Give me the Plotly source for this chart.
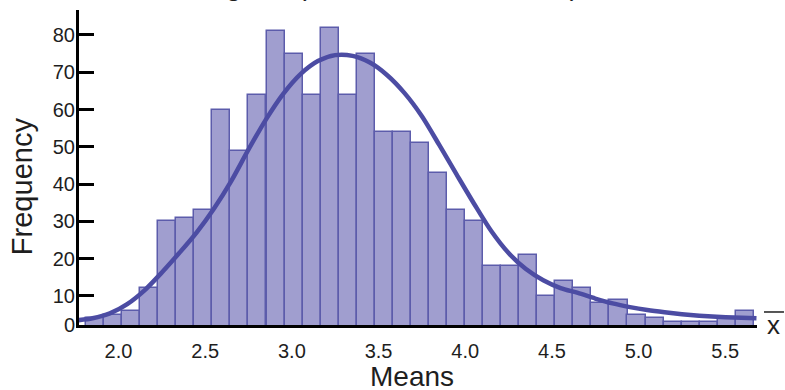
import plotly.graph_objects as go

# histogram of sample means
bin_centers = [1.864, 1.968, 2.072, 2.177, 2.281, 2.385, 2.489, 2.593, 2.697, 2.801,
               2.906, 3.010, 3.114, 3.218, 3.322, 3.426, 3.530, 3.635, 3.739, 3.843,
               3.947, 4.051, 4.155, 4.259, 4.364, 4.468, 4.572, 4.676, 4.780, 4.884,
               4.988, 5.093, 5.197, 5.301, 5.405, 5.509, 5.613]
frequencies = [4, 5, 6, 12, 30, 31, 33, 60, 49, 64,
               81, 75, 64, 82, 64, 75, 54, 54, 51, 43,
               33, 30, 18, 18, 21, 10, 14, 12, 8, 9,
               5, 4, 3, 3, 3, 4, 6]
bin_width = 0.1041

# fitted curve drawn over the bars (read at regular x steps)
curve_x = [1.77, 1.85, 1.95, 2.05, 2.15, 2.25, 2.35, 2.45, 2.55, 2.65,
           2.75, 2.85, 2.95, 3.05, 3.15, 3.25, 3.35, 3.45, 3.55, 3.65,
           3.75, 3.85, 3.95, 4.05, 4.15, 4.25, 4.35, 4.45, 4.55, 4.65,
           4.75, 4.85, 4.95, 5.05, 5.15, 5.25, 5.35, 5.45, 5.55, 5.68]
curve_y = [3.5, 4.0, 5.3, 7.8, 11.5, 16.3, 21.5, 27.0, 33.4, 40.8,
           49.3, 57.3, 64.2, 69.5, 73.0, 74.6, 74.4, 72.6, 69.2, 64.4,
           58.2, 50.5, 42.6, 34.8, 27.4, 21.5, 17.2, 14.2, 12.1, 10.8,
           9.3, 8.0, 7.0, 6.2, 5.6, 5.1, 4.7, 4.4, 4.2, 4.0]

x_ticks = [2.0, 2.5, 3.0, 3.5, 4.0, 4.5, 5.0, 5.5]
y_floor = 2.2   # the axis baseline, labelled "0" in the original
y_ticks = [y_floor, 10, 20, 30, 40, 50, 60, 70, 80]
y_tick_text = ["0", "10", "20", "30", "40", "50", "60", "70", "80"]

FONT = "Liberation Sans, Arial, sans-serif"
BAR_FILL = "#a09ecf"
BAR_EDGE = "#5c5cab"
CURVE = "#4c4ca3"

fig = go.Figure()

fig.add_trace(go.Bar(
    x=bin_centers,
    y=frequencies,
    width=bin_width,
    marker=dict(color=BAR_FILL, line=dict(color=BAR_EDGE, width=1.5)),
    hoverinfo="x+y",
))

fig.add_trace(go.Scatter(
    x=curve_x,
    y=curve_y,
    mode="lines",
    line=dict(color=CURVE, width=4.5, shape="spline", smoothing=0.8),
    hoverinfo="skip",
))

fig.update_layout(
    width=785,
    height=390,
    margin=dict(l=79, r=28, t=10, b=65),
    paper_bgcolor="white",
    plot_bgcolor="white",
    showlegend=False,
    bargap=0,
    font=dict(family=FONT, color="#1e1e1e"),
    xaxis=dict(
        range=[1.772, 5.683],
        tickvals=x_ticks,
        tickformat=".1f",
        ticks="",
        showline=True,
        linecolor="black",
        linewidth=3,
        showgrid=False,
        zeroline=False,
        tickfont=dict(size=20),
        ticklabelstandoff=6,
    ),
    yaxis=dict(
        range=[y_floor, 86.7],
        tickvals=y_ticks,
        ticktext=y_tick_text,
        ticks="inside",
        ticklen=15,
        tickwidth=3,
        tickcolor="black",
        showline=True,
        linecolor="black",
        linewidth=3,
        showgrid=False,
        zeroline=False,
        tickfont=dict(size=20),
        ticklabelstandoff=-3,
    ),
    annotations=[
        dict(text="Means", xref="paper", yref="paper", x=0.491, y=-0.163,
             xanchor="center", yanchor="middle", showarrow=False,
             font=dict(size=28)),
        dict(text="Frequency", xref="paper", yref="paper", x=-0.083, y=0.44,
             xanchor="center", yanchor="middle", textangle=-90, showarrow=False,
             font=dict(size=29)),
        dict(text="Histogram (Distribution of Means)", xref="paper", yref="paper",
             x=0.1195, y=1.077, xanchor="left", yanchor="middle", showarrow=False,
             font=dict(size=28)),
        dict(text="x", xref="paper", yref="paper", x=1.025, y=0.0,
             xanchor="center", yanchor="middle", showarrow=False,
             font=dict(size=26)),
    ],
    shapes=[
        dict(type="line", xref="paper", yref="paper", x0=1.0103, x1=1.0398,
             y0=0.0413, y1=0.0413, line=dict(color="#1e1e1e", width=1.5)),
    ],
)

# drop the browser's default 8px body margin so the figure sits at the page corner
fig.write_html("out.html", config={"displayModeBar": False},
               post_script="document.body.style.margin='0';")
